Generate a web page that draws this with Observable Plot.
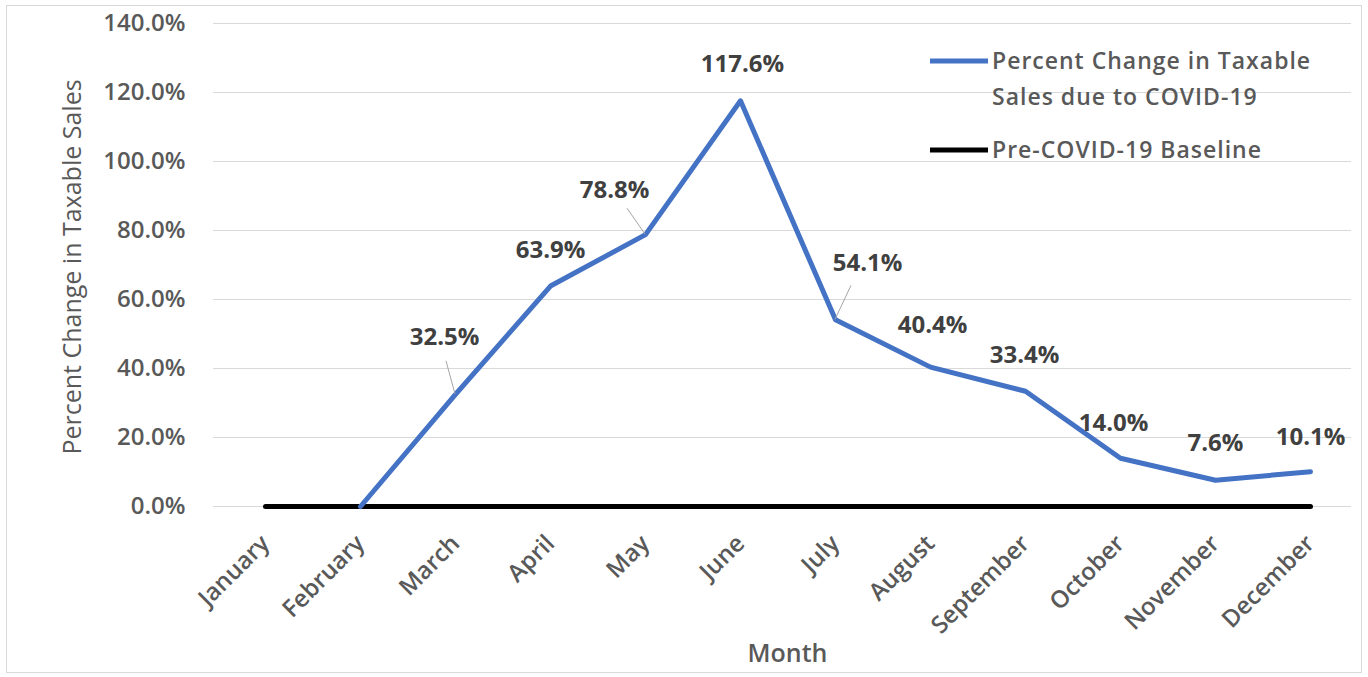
<!DOCTYPE html>
<html>
<head>
<meta charset="utf-8">
<script src="https://cdn.jsdelivr.net/npm/d3@7"></script>
<script src="https://cdn.jsdelivr.net/npm/@observablehq/plot@0.6"></script>
<style>
  html, body { margin: 0; padding: 0; background: #ffffff; }
  #chart { position: relative; width: 1368px; height: 677px; }
  #chart svg { display: block; }
</style>
</head>
<body>
<div id="chart"></div>
<script>
// Months of the year (x categories)
const months = ["January", "February", "March", "April", "May", "June",
  "July", "August", "September", "October", "November", "December"];

// Percent change in taxable sales due to COVID-19 (null = no value)
const pctChange = [null, 0, 32.5, 63.9, 78.8, 117.6, 54.1, 40.4, 33.4, 14.0, 7.6, 10.1];

// Pre-COVID-19 baseline
const baseline = [0, 0, 0, 0, 0, 0, 0, 0, 0, 0, 0, 0];

// Months that carry a value label
const labelledMonths = ["March", "April", "May", "June", "July", "August",
  "September", "October", "November", "December"];

// Y axis ticks
const yTicks = [0, 20, 40, 60, 80, 100, 120, 140];

// Label placement relative to each point (pixels)
const labelOffsets = {
  March: [-11, -57], April: [0, -36], May: [-31, -44], June: [2, -36],
  July: [32, -57], August: [2, -42], September: [-1, -36],
  October: [-7, -35], November: [0, -37], December: [0, -34]
};
// Leader lines from label to point (start offset in pixels)
const leaders = { March: [-9, -33], May: [-18, -26], July: [16, -34] };

const seriesRows = months.map((m, i) => ({ month: m, value: pctChange[i] }));
const baseRows = months.map((m, i) => ({ month: m, value: baseline[i] }));
const labelRows = seriesRows.filter(d => labelledMonths.includes(d.month));

const FONT = "'Open Sans', sans-serif";
const AXIS_COLOR = "#595959";
const BLUE = "#4472C4";
const fmt = v => v.toFixed(1) + "%";

const chart = Plot.plot({
  width: 1368,
  height: 677,
  marginLeft: 213,
  marginRight: 7,
  marginTop: 23,
  marginBottom: 171,
  style: { fontFamily: FONT, background: "#ffffff", overflow: "visible" },
  x: { type: "point", domain: months, padding: 0.5, label: null },
  y: { domain: [0, 140], label: null },
  marks: [
    // Outer chart border
    (index, scales, values, dims) => {
      const r = document.createElementNS("http://www.w3.org/2000/svg", "rect");
      r.setAttribute("x", 6.5); r.setAttribute("y", 5.5);
      r.setAttribute("width", dims.width - 13); r.setAttribute("height", dims.height - 10);
      r.setAttribute("fill", "none"); r.setAttribute("stroke", "#d9d9d9");
      return r;
    },
    Plot.gridY(yTicks, { stroke: "#d9d9d9", strokeOpacity: 1, strokeWidth: 1, insetRight: 10 }),
    Plot.axisY(yTicks, {
      tickSize: 0, tickPadding: 28, tickFormat: fmt,
      fontSize: 24, fontWeight: 600, fill: AXIS_COLOR, label: null,
      style: { letterSpacing: "1.4px" }
    }),
    Plot.axisX({
      tickSize: 0, tickRotate: -45, tickPadding: 33,
      fontSize: 24, fontWeight: 600, fill: AXIS_COLOR, label: null,
      style: { letterSpacing: "1px" }
    }),
    // Axis titles
    Plot.text(["Percent Change in Taxable Sales"], {
      frameAnchor: "left", dx: -141, dy: 2, rotate: -90, textAnchor: "middle",
      fontSize: 25, fill: AXIS_COLOR, fontWeight: 400,
      style: { letterSpacing: "1.3px" }
    }),
    Plot.text(["Month"], {
      frameAnchor: "bottom", dy: 155,
      fontSize: 25, fill: AXIS_COLOR, fontWeight: 600,
      style: { letterSpacing: "1.2px" }
    }),
    // Baseline and series
    Plot.line(baseRows, { x: "month", y: "value", stroke: "#000000", strokeWidth: 5 }),
    Plot.line(seriesRows, { x: "month", y: "value", stroke: BLUE, strokeWidth: 5,
      strokeLinejoin: "round", defined: d => d.value != null }),
    // Leader lines
    (index, { x, y }) => {
      const g = d3.create("svg:g");
      for (const d of labelRows) {
        const off = leaders[d.month];
        if (!off) continue;
        const px = x(d.month), py = y(d.value);
        g.append("line")
          .attr("x1", px + off[0]).attr("y1", py + off[1])
          .attr("x2", px).attr("y2", py)
          .attr("stroke", "#a6a6a6").attr("stroke-width", 1);
      }
      return g.node();
    },
    // Value labels
    Plot.text(labelRows, {
      x: "month", y: "value", text: d => fmt(d.value),
      fontSize: 24, fontWeight: 700, fill: "#404040",
      style: { letterSpacing: "1px" },
      render: (index, scales, values, dims, context, next) => {
        const node = next(index, scales, values, dims, context);
        d3.select(node).selectAll("text").each(function (_, j) {
          const i = index[j];
          const [ox, oy] = labelOffsets[labelRows[i].month];
          d3.select(this).attr("transform",
            `translate(${values.x[i] + ox},${values.y[i] + oy})`);
        });
        return node;
      }
    }),
    // Legend
    () => {
      const g = d3.create("svg:g")
        .attr("font-family", FONT).attr("font-size", 23)
        .attr("font-weight", 600).attr("fill", AXIS_COLOR)
        .attr("text-anchor", "start").attr("letter-spacing", "1px");
      const items = [
        { color: BLUE, lines: ["Percent Change in Taxable", "Sales due to COVID-19"], y: 61 },
        { color: "#000000", lines: ["Pre-COVID-19 Baseline"], y: 150 }
      ];
      for (const it of items) {
        g.append("line").attr("x1", 930).attr("x2", 988)
          .attr("y1", it.y).attr("y2", it.y)
          .attr("stroke", it.color).attr("stroke-width", 5);
        it.lines.forEach((s, k) => {
          g.append("text").attr("x", 992).attr("y", it.y + k * 36)
            .attr("dy", "0.35em").text(s);
        });
      }
      return g.node();
    }
  ]
});

document.getElementById("chart").appendChild(chart);
</script>
</body>
</html>
